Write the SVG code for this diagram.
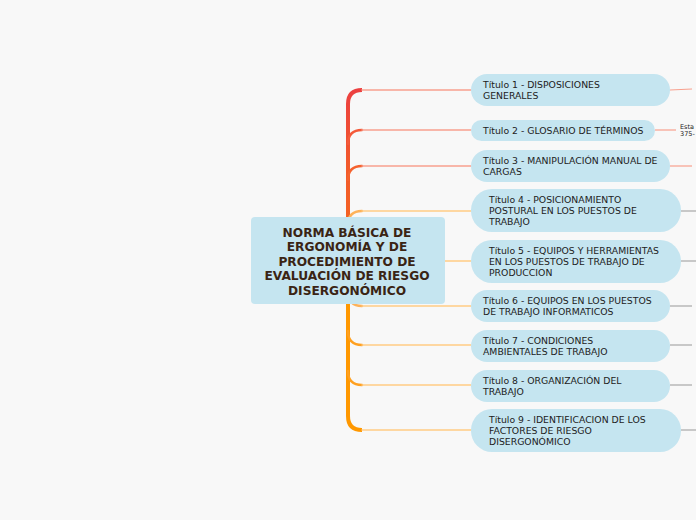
<svg xmlns="http://www.w3.org/2000/svg" width="696" height="520" viewBox="0 0 696 520">
<defs>
<linearGradient id="gTop" gradientUnits="userSpaceOnUse" x1="0" y1="90" x2="0" y2="262">
<stop offset="0" stop-color="#ec4040"/>
<stop offset="0.45" stop-color="#f25a2a"/>
<stop offset="1" stop-color="#f5691e"/>
</linearGradient>
<style>
.bg{fill:#f8f8f8}
.node{fill:#c5e5f0}
.t{font-family:"DejaVu Sans",Verdana,sans-serif;font-size:9.3px;fill:#222222}
.c{font-family:"DejaVu Sans",Verdana,sans-serif;font-size:12.2px;font-weight:bold;fill:#3a2414;text-anchor:middle}
.br{fill:none;stroke-width:1.3;stroke-linecap:round}
.red{stroke:#f8a08e}
.org{stroke:#ffcb84}
.cr{fill:none;stroke-width:2.4;stroke-linecap:round}
.gray{stroke:#a8a8a8;fill:none;stroke-width:1.2}
.sal{stroke:#f8a08e;fill:none;stroke-width:1.2}
.note{font-family:"DejaVu Sans",Verdana,sans-serif;font-size:6.5px;fill:#222222}
</style>
</defs>
<rect class="bg" x="0" y="0" width="696" height="520"/>
<g id="connectors">
<path d="M348 262 L348 104 Q348 90 362 90" stroke="url(#gTop)" stroke-width="4" fill="none"/>
<path d="M348 262 L348 416 Q348 430 362 430" stroke="#ff9800" stroke-width="4" fill="none"/>
<path class="br red" d="M362 90 L471 90"/>
<path class="cr" stroke="#f45a3a" d="M348 144 Q348 130 362 130"/>
<path class="br red" d="M362 130 L471 130"/>
<path class="cr" stroke="#f5622e" d="M348 180 Q348 166 362 166"/>
<path class="br red" d="M362 166 L471 166"/>
<path class="cr" stroke="#fdb25a" d="M348 225 Q348 211 362 211"/>
<path class="br org" d="M362 211 L471 211"/>
<path class="br org" d="M445 261 L471 261"/>
<path class="cr" stroke="#fdb25a" d="M348 292 Q348 306 362 306"/>
<path class="br org" d="M362 306 L471 306"/>
<path class="cr" stroke="#ffa020" d="M348 331 Q348 345 362 345"/>
<path class="br org" d="M362 345 L471 345"/>
<path class="cr" stroke="#ffa020" d="M348 371 Q348 385 362 385"/>
<path class="br org" d="M362 385 L471 385"/>
<path class="br org" d="M362 430 L471 430"/>
<path class="sal" d="M670 90 L692 89"/>
<path class="sal" d="M655 130 L676 130"/>
<path class="sal" d="M670 166 L692 166"/>
<path class="gray" d="M681 211 L696 211"/>
<path class="gray" d="M681 261 L696 261"/>
<path class="gray" d="M670 306 L692 306"/>
<path class="gray" d="M670 345 L692 345"/>
<path class="gray" d="M670 385 L692 385"/>
<path class="gray" d="M681 430 L696 430"/>
</g>
<g id="center">
<rect class="node" x="251" y="217" width="194" height="87" rx="4"/>
<text class="c" x="347" y="237">NORMA BÁSICA DE</text>
<text class="c" x="347" y="251">ERGONOMÍA Y DE</text>
<text class="c" x="347" y="266">PROCEDIMIENTO DE</text>
<text class="c" x="347" y="280">EVALUACIÓN DE RIESGO</text>
<text class="c" x="347" y="295">DISERGONÓMICO</text>
</g>
<g id="n1">
<rect class="node" x="471" y="74" width="199" height="32" rx="16"/>
<text class="t" x="483" y="88">Título 1 - DISPOSICIONES</text>
<text class="t" x="483" y="99">GENERALES</text>
</g>
<g id="n2">
<rect class="node" x="471" y="120" width="184" height="21" rx="10.5"/>
<text class="t" x="483" y="134">Título 2 - GLOSARIO DE TÉRMINOS</text>
<text class="note" x="680" y="129">Esta</text>
<text class="note" x="680" y="136">375-</text>
</g>
<g id="n3">
<rect class="node" x="471" y="150" width="199" height="32" rx="16"/>
<text class="t" x="483" y="164">Título 3 - MANIPULACIÓN MANUAL DE</text>
<text class="t" x="483" y="175">CARGAS</text>
</g>
<g id="n4">
<rect class="node" x="471" y="189" width="210" height="43" rx="21"/>
<text class="t" x="489" y="203">Título 4 - POSICIONAMIENTO</text>
<text class="t" x="489" y="214">POSTURAL EN LOS PUESTOS DE</text>
<text class="t" x="489" y="225">TRABAJO</text>
</g>
<g id="n5">
<rect class="node" x="471" y="240" width="210" height="43" rx="21"/>
<text class="t" x="489" y="254">Título 5 - EQUIPOS Y HERRAMIENTAS</text>
<text class="t" x="489" y="265">EN LOS PUESTOS DE TRABAJO DE</text>
<text class="t" x="489" y="276">PRODUCCION</text>
</g>
<g id="n6">
<rect class="node" x="471" y="290" width="199" height="32" rx="16"/>
<text class="t" x="483" y="304">Título 6 - EQUIPOS EN LOS PUESTOS</text>
<text class="t" x="483" y="315">DE TRABAJO INFORMATICOS</text>
</g>
<g id="n7">
<rect class="node" x="471" y="330" width="199" height="32" rx="16"/>
<text class="t" x="483" y="344">Título 7 - CONDICIONES</text>
<text class="t" x="483" y="355">AMBIENTALES DE TRABAJO</text>
</g>
<g id="n8">
<rect class="node" x="471" y="370" width="199" height="32" rx="16"/>
<text class="t" x="483" y="384">Título 8 - ORGANIZACIÓN DEL</text>
<text class="t" x="483" y="395">TRABAJO</text>
</g>
<g id="n9">
<rect class="node" x="471" y="409" width="210" height="43" rx="21"/>
<text class="t" x="489" y="423">Título 9 - IDENTIFICACION DE LOS</text>
<text class="t" x="489" y="434">FACTORES DE RIESGO</text>
<text class="t" x="489" y="445">DISERGONÓMICO</text>
</g>
</svg>
